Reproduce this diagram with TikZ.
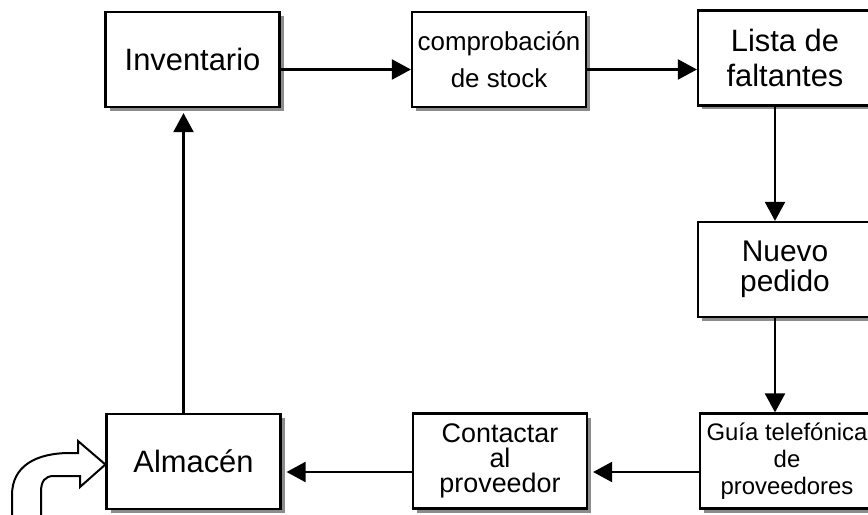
\documentclass[tikz,border=0pt]{standalone}
\usepackage{fontspec}
\setmainfont{Liberation Sans}
\usepackage{tikz}
\usetikzlibrary{arrows.meta,shadows}
\usepackage{xcolor}
\tikzset{
    caja/.style={draw,line width=2.2bp,fill=white,inner sep=0,align=center,
        minimum width=174bp,minimum height=95bp,
        drop shadow={shadow xshift=4bp,shadow yshift=-4bp,fill=black!45,opacity=1}},
    flecha/.style={line width=2.2bp,-{Triangle[length=19bp,width=20bp]}},
}
\newcommand{\caja}[6] {
    \node[caja,font={\fontsize{#4}{#5}\selectfont}]
        (#1) at (#2,#3) {#6};
}

\begin{document}
\begin{tikzpicture}[x=1bp,y=-1bp]
        \useasboundingbox (0,0) rectangle (868,515);
        \fill[white] (0,0) rectangle (868,515);
        \clip (0,0) rectangle (868,515);
        \caja{inv}{192.5}{59.5}{31}{36}{Inventario}
        \caja{comp}{499}{59.5}{26}{37}{comprobación\\de stock}
        \caja{lista}{785}{58}{31}{35}{Lista de\\faltantes}
        \caja{nuevo}{785}{269.5}{30}{30}{Nuevo\\pedido}
        \caja{guia}{787}{461}{24}{27}{Guía telefónica\\de\\proveedores}
        \caja{cont}{500}{461}{27}{25}{Contactar\\al\\proveedor}
        \caja{alm}{193.5}{461.5}{31}{36}{Almacén}
        \draw[flecha] ([yshift=-10bp]inv.east) -- ([yshift=-10bp]comp.west);
        \draw[flecha] ([yshift=-10bp]comp.east) -- ([yshift=-10bp]comp.east -| lista.west);
        \draw[flecha] ([xshift=-10bp]lista.south) -- ([xshift=-10bp]nuevo.north);
        \draw[flecha] ([xshift=-10bp]nuevo.south) -- ([xshift=-10bp]nuevo.south |- guia.north);
        \draw[flecha,shorten >=5bp] ([yshift=-11bp]guia.west) -- ([yshift=-11bp]guia.west -| cont.east);
        \draw[flecha,shorten >=5bp] ([yshift=-11bp]cont.west) -- ([yshift=-11bp]cont.west -| alm.east);
        \draw[flecha,shorten >=5bp] ([xshift=-10bp]alm.north) -- ([xshift=-10bp]alm.north |- inv.south);
        \draw[line width=2bp,fill=white] (12,520) -- (12,495)
            .. controls (12,466) and (36,453) .. (70,453) -- (78,453) -- (78,441)
            -- ([yshift=-3bp]alm.west) -- (80,487) -- (80,476) -- (54,476)
            .. controls (45,476) and (41,481) .. (41,492) -- (41,520);
\end{tikzpicture}
\end{document}
